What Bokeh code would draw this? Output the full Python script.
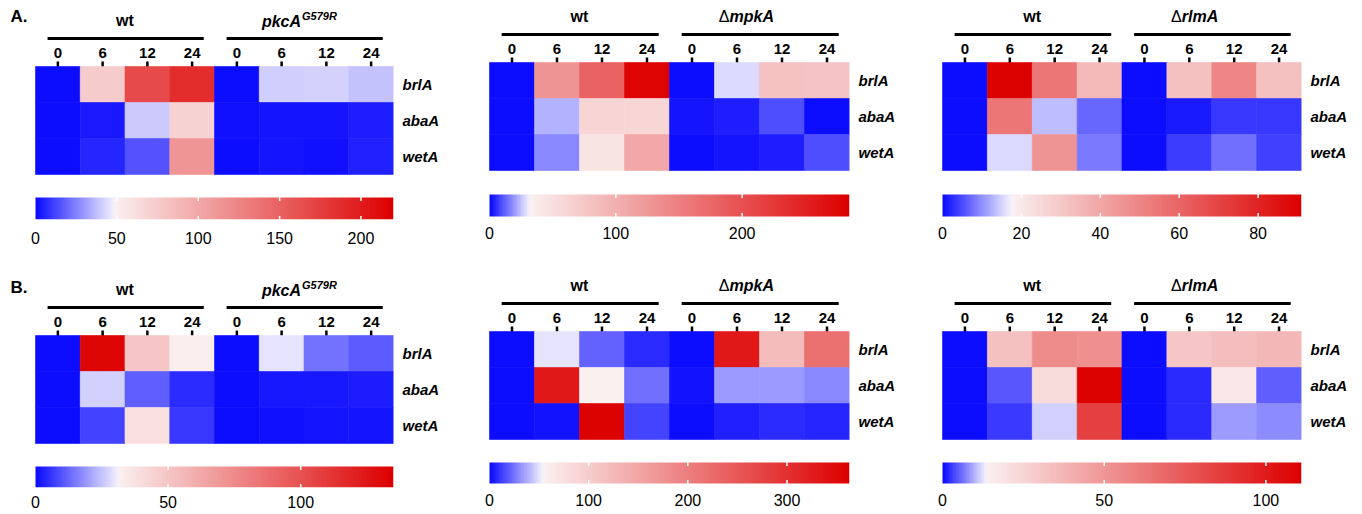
import numpy as np
from bokeh.plotting import figure
from bokeh.models import (Range1d, LinearColorMapper, LinearAxis, FixedTicker,
                          ColumnDataSource)
from bokeh.layouts import gridplot
from bokeh.core.properties import value
from bokeh.embed import file_html
from bokeh.resources import INLINE

# ---------------- data ----------------
TIMES = ["0", "6", "12", "24"]
GENES = ["brlA", "abaA", "wetA"]

# Panel A (left): wt vs pkcA G579R
A1_GROUPS = ["wt", "pkcA^G579R"]
A1_VALUES = [
    [0.5, 75, 167, 188, 0.5, 41, 42, 38],
    [0.5, 3, 40, 70, 1, 2, 2, 3.5],
    [0.5, 5.5, 15, 114, 0.5, 2.5, 1.5, 4.5],
]
A1_MAX, A1_WHITE = 220, 48
A1_TICKS = [0, 50, 100, 150, 200]

# Panel A (middle): wt vs mpkA deletion
A2_GROUPS = ["wt", "\u0394mpkA"]
A2_VALUES = [
    [0.5, 129, 181, 280, 0.5, 28, 82, 80],
    [0.5, 22.5, 61, 60, 1.7, 3, 9, 0.4],
    [0.5, 17, 45, 108, 0.4, 1.7, 3, 9],
]
A2_MAX, A2_WHITE = 285, 31
A2_TICKS = [0, 100, 200]

# Panel A (right): wt vs rlmA deletion
A3_GROUPS = ["wt", "\u0394rlmA"]
A3_VALUES = [
    [0.2, 90, 55, 34, 0.2, 32, 50, 32],
    [0.2, 55, 13.3, 6.8, 0.2, 1.3, 3.5, 3.5],
    [0.2, 15.5, 45.6, 8.2, 0.2, 3.9, 7.5, 4.2],
]
A3_MAX, A3_WHITE = 91, 17.2
A3_TICKS = [0, 20, 40, 60, 80]

# Panel B (left)
B1_GROUPS = ["wt", "pkcA^G579R"]
B1_VALUES = [
    [0.3, 133, 50, 32.5, 0.3, 29.3, 14.2, 10.9],
    [0.3, 26.7, 11.6, 4.3, 0.4, 1.7, 2.1, 2.4],
    [0.3, 7.6, 39, 6.3, 0.4, 0.8, 1.3, 1.3],
]
B1_MAX, B1_WHITE = 135, 31
B1_TICKS = [0, 50, 100]

# Panel B (middle)
B2_GROUPS = ["wt", "\u0394mpkA"]
B2_VALUES = [
    [0.5, 51, 20, 7.5, 1.4, 331, 122, 217],
    [0.5, 331, 55, 23.6, 1.8, 32.7, 32.7, 29.3],
    [0.5, 1.8, 360, 13.3, 0, 5.3, 7.5, 6.4],
]
B2_MAX, B2_WHITE = 363, 53
B2_TICKS = [0, 100, 200, 300]

# Panel B (right)
B3_GROUPS = ["wt", "\u0394rlmA"]
B3_VALUES = [
    [0.2, 33, 55, 53, 0.2, 31, 34, 37],
    [0.2, 4.4, 22, 110, 0.2, 2.1, 17, 5.2],
    [0.2, 2.7, 11.4, 85, 0.2, 2.1, 8.3, 7.5],
]
B3_MAX, B3_WHITE = 111, 13.3
B3_TICKS = [0, 50, 100]

# ---------------- style / layout ----------------
FONT = "Liberation Sans"
ROW_PX = 36
COL_W = [462, 453, 447]          # figure widths per column
COL_LEFT = [35, 27, 27]          # px from figure left to heatmap left
COL_PX = [44.75, 45.0, 44.875]   # px per heatmap column

BLUE = (12, 12, 255)
WHITE_B = (244, 242, 253)
WHITE_R = (251, 241, 241)
RED = (221, 0, 0)


def lerp(c0, c1, f):
    return tuple(int(round(a + (b - a) * f)) for a, b in zip(c0, c1))


def make_palette(white_frac, n=256):
    pal = []
    for i in range(n):
        t = i / (n - 1)
        if t <= white_frac:
            c = lerp(BLUE, WHITE_B, t / white_frac)
        else:
            c = lerp(WHITE_R, RED, (t - white_frac) / (1 - white_frac))
        pal.append("#%02x%02x%02x" % c)
    return pal


def draw_group_label(p, cx, label, dy, fs):
    base = dict(y=[0], text_font=value(FONT), text_color="black",
                text_baseline="middle")
    if "^" in label:
        main, sup = label.split("^")
        p.text(x=[cx], text=[main], x_offset=-3, y_offset=dy + 1,
               text_align="right", text_font_style="bold italic",
               text_font_size=fs, **base)
        p.text(x=[cx], text=[sup], x_offset=-2, y_offset=dy - 5,
               text_align="left", text_font_style="bold italic",
               text_font_size="11px", **base)
    elif label.startswith("\u0394"):
        p.text(x=[cx], text=[label[0]], x_offset=-30, y_offset=dy,
               text_align="right", text_font_style="normal",
               text_font_size=fs, **base)
        p.text(x=[cx], text=[label[1:]], x_offset=-30, y_offset=dy,
               text_align="left", text_font_style="bold italic",
               text_font_size=fs, **base)
    else:
        p.text(x=[cx], text=[label], y_offset=dy, text_align="center",
               text_font_style="bold", text_font_size=fs, **base)


def heatmap_fig(values, groups, mapper, width, height, top_px, left_px,
                col_px, letter, letter_dy):
    ncols = len(groups) * len(TIMES)
    frame_w = left_px + ncols * col_px
    p = figure(width=width, height=height, output_backend="svg",
               toolbar_location=None, title=None,
               x_range=Range1d(-left_px / col_px, ncols),
               y_range=Range1d((height - top_px) / ROW_PX, -top_px / ROW_PX),
               x_axis_location=None, y_axis_location=None,
               min_border_left=0, min_border_top=0, min_border_bottom=0,
               min_border_right=int(round(width - frame_w)),
               outline_line_color=None)
    p.grid.visible = False

    col_centers = [c + 0.5 for c in range(ncols)]
    # tick marks above the heatmap
    p.rect(x=col_centers, y=[0] * ncols, width=2.5, height=10,
           width_units="screen", height_units="screen",
           fill_color="black", line_color=None)

    xs, ys, vs = [], [], []
    for r, row in enumerate(values):
        for c, v in enumerate(row):
            xs.append(c + 0.5)
            ys.append(r + 0.5)
            vs.append(v)
    src = ColumnDataSource(dict(x=xs, y=ys, v=vs))
    p.rect(x="x", y="y", width=1, height=1, source=src,
           fill_color={"field": "v", "transform": mapper},
           line_color={"field": "v", "transform": mapper}, line_width=0.6)

    # time labels
    p.text(x=col_centers, y=[0] * ncols, text=TIMES * len(groups),
           y_offset=-14, text_align="center", text_baseline="middle",
           text_font=value(FONT), text_font_style="bold",
           text_font_size="15px", text_color="black")

    # group lines and labels
    nt = len(TIMES)
    gx0 = [g * nt + 0.27 for g in range(len(groups))]
    gx1 = [g * nt + nt - 0.24 for g in range(len(groups))]
    gy = [-28 / ROW_PX] * len(groups)
    p.segment(x0=gx0, y0=gy, x1=gx1, y1=gy, line_color="black", line_width=3)
    for g, lab in enumerate(groups):
        draw_group_label(p, g * nt + nt / 2, lab, -46, "16px")

    if letter:
        p.text(x=[-left_px / col_px], y=[0], text=[letter], x_offset=10,
               y_offset=letter_dy, text_align="left", text_baseline="middle",
               text_font=value(FONT), text_font_style="bold",
               text_font_size="17px", text_color="black")

    ax = LinearAxis(ticker=FixedTicker(ticks=[r + 0.5 for r in range(len(GENES))]),
                    major_label_overrides={r + 0.5: g for r, g in enumerate(GENES)},
                    axis_line_color=None, major_tick_line_color=None,
                    minor_tick_line_color=None, major_tick_in=0, major_tick_out=0,
                    major_label_standoff=9, major_label_text_font=FONT,
                    major_label_text_font_style="bold italic",
                    major_label_text_font_size="15px",
                    major_label_text_color="black")
    p.add_layout(ax, "right")
    return p


def colorbar_fig(mapper, hi, ticks, width, height, frame_h, bar_top, bar_px,
                 left_px, col_px, standoff):
    bar_w = 8 * col_px
    bar_bottom = bar_top + bar_px
    p = figure(width=width, height=height, output_backend="svg",
               toolbar_location=None, title=None,
               x_range=Range1d(-left_px / bar_w * hi, hi),
               y_range=Range1d(-(frame_h - bar_bottom) / bar_px,
                               1 + bar_top / bar_px),
               x_axis_location=None, y_axis_location=None,
               min_border_left=0,
               min_border_right=int(round(width - left_px - bar_w)),
               min_border_top=0,
               min_border_bottom=height - frame_h,
               outline_line_color=None)
    p.grid.visible = False
    grad = np.linspace(0, hi, 600).reshape(1, -1)
    p.image(image=[grad], x=0, y=0, dw=hi, dh=1, color_mapper=mapper)
    inner = [t for t in ticks if t > 0]
    for yy in (0, 1):
        p.rect(x=inner, y=[yy] * len(inner), width=1.5, height=7,
               width_units="screen", height_units="screen",
               fill_color="white", line_color=None)
    ax = LinearAxis(ticker=FixedTicker(ticks=ticks), axis_line_color=None,
                    major_tick_in=0, major_tick_out=0,
                    major_tick_line_color=None, minor_tick_line_color=None,
                    major_label_standoff=standoff, major_label_text_font=FONT,
                    major_label_text_font_size="16px",
                    major_label_text_color="black")
    p.add_layout(ax, "below")
    return p


PANELS_A = [
    (A1_VALUES, A1_GROUPS, A1_MAX, A1_WHITE, A1_TICKS),
    (A2_VALUES, A2_GROUPS, A2_MAX, A2_WHITE, A2_TICKS),
    (A3_VALUES, A3_GROUPS, A3_MAX, A3_WHITE, A3_TICKS),
]
PANELS_B = [
    (B1_VALUES, B1_GROUPS, B1_MAX, B1_WHITE, B1_TICKS),
    (B2_VALUES, B2_GROUPS, B2_MAX, B2_WHITE, B2_TICKS),
    (B3_VALUES, B3_GROUPS, B3_MAX, B3_WHITE, B3_TICKS),
]

ROW_SPECS = [
    dict(panels=PANELS_A, letter="A.", letter_dy=-50,
         heat_h=182, heat_top=[66, 62, 62],
         cb_h=77, cb_frame_h=37, bar_top=[15, 12, 12], bar_px=22,
         standoff=[12, 7, 7]),
    dict(panels=PANELS_B, letter="B.", letter_dy=-48,
         heat_h=191, heat_top=[76, 72, 72],
         cb_h=64, cb_frame_h=37, bar_top=[16, 12, 12], bar_px=21,
         standoff=[8, 6, 6]),
]

grid_rows = []
for spec in ROW_SPECS:
    heat_row, cb_row = [], []
    for i, (vals, groups, hi, white, ticks) in enumerate(spec["panels"]):
        mapper = LinearColorMapper(palette=make_palette(white / hi), low=0, high=hi)
        heat_row.append(heatmap_fig(vals, groups, mapper, COL_W[i], spec["heat_h"],
                                    spec["heat_top"][i], COL_LEFT[i], COL_PX[i],
                                    spec["letter"] if i == 0 else None,
                                    spec["letter_dy"]))
        cb_row.append(colorbar_fig(mapper, hi, ticks, COL_W[i], spec["cb_h"],
                                   spec["cb_frame_h"], spec["bar_top"][i],
                                   spec["bar_px"], COL_LEFT[i], COL_PX[i],
                                   spec["standoff"][i]))
    grid_rows.append(heat_row)
    grid_rows.append(cb_row)

layout = gridplot(grid_rows, toolbar_location=None)

open("out.html", "w").write(file_html(layout, INLINE))
